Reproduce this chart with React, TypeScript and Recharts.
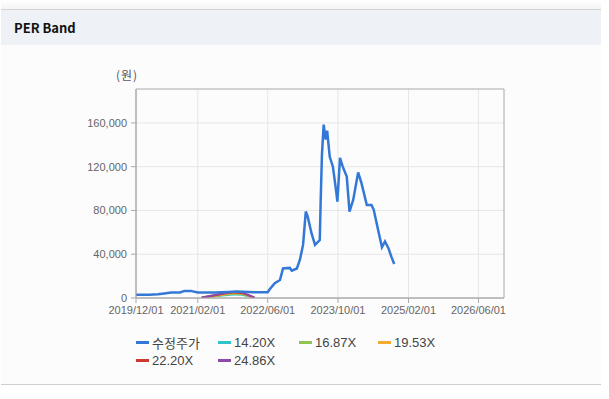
import React from "react";
import { LineChart, Line, XAxis, YAxis, CartesianGrid, ReferenceArea } from "recharts";

const priceDates = [
  "2019/12/01","2020/03/01","2020/05/01","2020/06/15","2020/08/01","2020/10/01","2020/11/01","2020/12/15",
  "2021/02/01","2021/06/01","2021/09/01","2021/11/01","2022/03/01","2022/06/01","2022/06/15","2022/07/20",
  "2022/08/25","2022/09/15","2022/11/01","2022/11/15","2022/12/20","2023/01/10","2023/02/01","2023/02/20",
  "2023/03/05","2023/04/01","2023/04/25","2023/05/28","2023/06/03","2023/06/12","2023/06/24","2023/07/08",
  "2023/07/18","2023/08/05","2023/08/27","2023/09/20","2023/09/27","2023/10/15","2023/11/03","2023/12/01",
  "2023/12/20","2024/01/15","2024/02/18","2024/03/12","2024/04/18","2024/05/20","2024/06/05","2024/07/05",
  "2024/08/01","2024/08/22","2024/09/15","2024/10/05","2024/10/25",
];
const priceValues = [
  3000,3000,3500,4200,5000,5000,6500,6500,
  5000,5000,5500,6000,5200,5200,8000,13500,
  16500,27000,27500,25000,27000,34800,48500,79000,
  74500,59000,48500,53000,88000,131000,158500,144700,
  153000,129000,120000,96000,88000,128000,120000,111000,
  79000,89800,114800,105000,85000,85000,80600,62300,
  46400,51600,45500,37800,31100,
];

const bandDates = ["2021/03/01","2021/06/01","2021/09/01","2021/10/15","2021/12/01","2022/01/15","2022/03/01"];
const band1420 = [280, 1560, 2840, 3270, 2980, 1700, 140];
const band1687 = [340, 1850, 3370, 3880, 3540, 2020, 170];
const band1953 = [390, 2150, 3900, 4500, 4100, 2350, 200];
const band2220 = [450, 2450, 4450, 5100, 4650, 2650, 220];
const band2486 = [500, 2700, 5000, 5700, 5200, 3000, 250];

const xTickLabels = ["2019/12/01","2021/02/01","2022/06/01","2023/10/01","2025/02/01","2026/06/01"];
const xDomainLabels = ["2019/12/01","2026/11/25"];
const yTicks = [0, 40000, 80000, 120000, 160000];
const yMax = 191000;

const seriesNames = ["수정주가","14.20X","16.87X","19.53X","22.20X","24.86X"];
const seriesColors = ["#3378d6","#2ec3c9","#93c352","#f3ab2f","#cf3a2e","#8e4aa8"];

const toTs = (s: string) => {
  const [y, m, d] = s.split("/").map(Number);
  return Date.UTC(y, m - 1, d);
};
const fmtTs = (t: number) => {
  const d = new Date(t);
  const mm = String(d.getUTCMonth() + 1).padStart(2, "0");
  const dd = String(d.getUTCDate()).padStart(2, "0");
  return `${d.getUTCFullYear()}/${mm}/${dd}`;
};

const build = (dates: string[], vals: number[]) => dates.map((d, i) => ({ t: toTs(d), v: vals[i] }));
const priceData = build(priceDates, priceValues);
const bands = [band1420, band1687, band1953, band2220, band2486].map((b) => build(bandDates, b));

const xTicks = xTickLabels.map(toTs);
const xDomain = xDomainLabels.map(toTs);

const font = "'Liberation Sans', Arial, sans-serif";

export default function App() {
  return (
    <div style={{ position: "absolute", left: 0, top: 0, width: 609, height: 399, background: "#fff", overflow: "hidden" }}>
      <div style={{ position: "absolute", left: 1, top: 0, width: 600, height: 9, background: "linear-gradient(#fff, #f4f4f4)" }} />
      <div style={{ position: "absolute", left: 1, top: 9, width: 600, height: 374, background: "#fcfcfc", borderTop: "1px solid #d3d3d3", borderBottom: "1px solid #cfcfcf" }} />
      <div style={{ position: "absolute", left: 1, top: 10, width: 600, height: 35, background: "#eef2f7" }} />
      <div style={{ position: "absolute", left: 14, top: 19, fontFamily: "'Noto Sans CJK KR', 'Noto Sans', sans-serif", fontWeight: 700, fontSize: 13, color: "#111", lineHeight: "18px" }}>PER Band</div>
      <div style={{ position: "absolute", left: 116, top: 67, fontFamily: "'Noto Sans CJK KR', sans-serif", fontSize: 12, color: "#555", lineHeight: "16px", letterSpacing: 1 }}>(원)</div>
      <div style={{ position: "absolute", left: 0, top: 0 }}>
        <LineChart width={609} height={399} margin={{ top: 89, right: 105, bottom: 71, left: 0 }}>
          <CartesianGrid stroke="#e6e6e6" strokeWidth={1} />
          <XAxis
            type="number"
            dataKey="t"
            scale="time"
            domain={xDomain}
            ticks={xTicks}
            tickFormatter={fmtTs}
            height={30}
            stroke="#aaaaaa"
            tickSize={5}
            tickMargin={3}
            tick={{ fill: "#666", fontSize: 11, fontFamily: font }}
            allowDataOverflow
            interval={0}
          />
          <YAxis
            type="number"
            domain={[0, yMax]}
            ticks={yTicks}
            width={136}
            stroke="#aaaaaa"
            tickSize={5}
            tickMargin={4}
            tick={{ fill: "#666", fontSize: 11, fontFamily: font }}
            tickFormatter={(v: number) => v.toLocaleString("en-US")}
            allowDataOverflow
            interval={0}
          />
          <ReferenceArea x1={xDomain[0]} x2={xDomain[1]} y1={0} y2={yMax} fill="none" stroke="#b4b4b4" strokeWidth={1} ifOverflow="visible" />
          {bands.map((b, i) => (
            <Line key={i} data={b} dataKey="v" type="monotone" stroke={seriesColors[i + 1]} strokeWidth={2} dot={false} isAnimationActive={false} />
          ))}
          <Line data={priceData} dataKey="v" type="linear" stroke={seriesColors[0]} strokeWidth={2.5} dot={false} isAnimationActive={false} />
        </LineChart>
      </div>
      {seriesNames.map((n, i) => {
        const col = i % 4;
        const row = Math.floor(i / 4);
        const lefts = [136, 218, 299, 378];
        return (
          <div key={n} style={{ position: "absolute", left: lefts[col], top: 334 + row * 18, display: "flex", alignItems: "center", height: 16, fontFamily: "'Liberation Sans', 'Noto Sans CJK KR', sans-serif", fontSize: 13, color: "#444" }}>
            <span style={{ display: "inline-block", width: 13, height: 3, background: seriesColors[i], marginRight: 3 }} />
            <span>{n}</span>
          </div>
        );
      })}
    </div>
  );
}
